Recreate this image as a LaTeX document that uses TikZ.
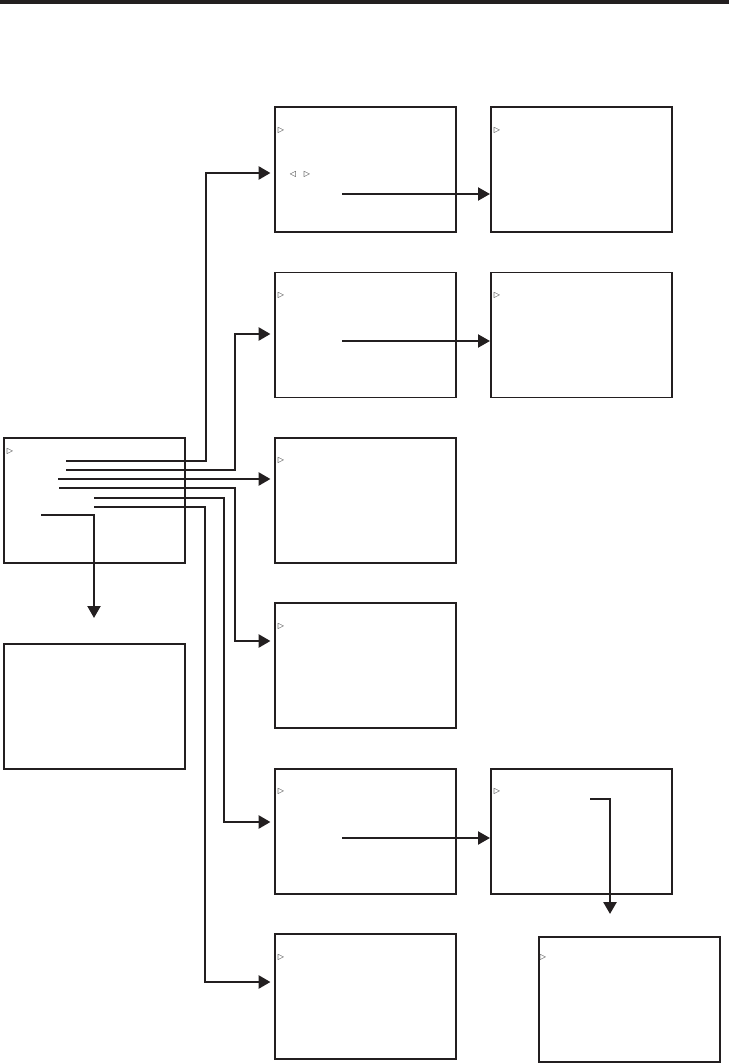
\documentclass[tikz,border=0pt]{standalone}
\usepackage{fontspec}
\newfontfamily\symfont{DejaVu Sans}
\usetikzlibrary{arrows.meta,positioning}
\definecolor{inkBlack}{RGB}{35, 31, 32}
\definecolor{cursorGray}{RGB}{40, 40, 40}

\tikzset{
  screen/.style={draw=inkBlack, line width=1.8pt, minimum width=181pt, minimum height=125pt, inner sep=0pt, outer sep=0pt},
  cursor/.style={font=\symfont\bfseries\fontsize{8pt}{8pt}\selectfont, text=cursorGray, inner sep=0pt},
  wire/.style={draw=inkBlack, line width=2.8pt, -{Triangle[length=12pt,width=13pt]}, shorten >=4.5pt},
  link/.style={draw=inkBlack, line width=2.2pt, -{Triangle[length=12pt,width=13pt]}, shorten >=1pt},
}

\begin{document}
\begin{tikzpicture}[x=1pt, y=-1pt]
  \useasboundingbox (0,0) rectangle (729,1063);
  % header rule
  \fill[inkBlack] (0,0) rectangle (729,4);

  % menu screens
  \node[screen, anchor=north west] (scrMain) at (4,438) {};
  \node[screen, below=81pt of scrMain] (scrBelow) {};
  \node[screen, anchor=north west] (c2r1) at (275,107) {};
  \node[screen, below=40.4pt of c2r1] (c2r2) {};
  \node[screen, below=40.4pt of c2r2] (c2r3) {};
  \node[screen, below=40.4pt of c2r3] (c2r4) {};
  \node[screen, below=40.4pt of c2r4] (c2r5) {};
  \node[screen, below=40.4pt of c2r5] (c2r6) {};
  \node[screen, right=35pt of c2r1] (c3r1) {};
  \node[screen, right=35pt of c2r2] (c3r2) {};
  \node[screen, right=35pt of c2r5] (c3r5) {};
  \node[screen, anchor=north west] (scrLast) at (539,937) {};

  % cursors
  \node[cursor] (curMain) at ([shift={(6pt,-13pt)}]scrMain.north west) {▷};
  \foreach \b in {c2r1,c2r2,c2r3,c2r4,c2r5,c2r6,c3r1,c3r2,c3r5}
    \node[cursor] (cur-\b) at ([shift={(6pt,-23pt)}]\b.north west) {▷};
  \node[cursor] (curLast) at ([shift={(4pt,-20pt)}]scrLast.north west) {▷};
  \node[cursor] (selLeft) at ([shift={(18pt,-67pt)}]c2r1.north west) {◁};
  \node[cursor] (selRight) at ([shift={(32pt,-67pt)}]c2r1.north west) {▷};

  % branches out of the main screen
  \coordinate (sA) at (66,461);  \coordinate (tA) at (206,173);
  \coordinate (sB) at (66,470);  \coordinate (tB) at (235,334);
  \coordinate (sC) at (58,479);
  \coordinate (sD) at (59,488);  \coordinate (tD) at (235,641);
  \coordinate (sE) at (94,498);  \coordinate (tE) at (224,822);
  \coordinate (sF) at (94,507);  \coordinate (tF) at (205,982);
  \coordinate (sG) at (41,515);  \coordinate (dG) at (94,515);

  \draw[wire] (sA) -| (tA) -- (tA -| c2r1.west);
  \draw[wire] (sB) -| (tB) -- (tB -| c2r2.west);
  \draw[wire] (sC) -- (sC -| c2r3.west);
  \draw[wire] (sD) -| (tD) -- (tD -| c2r4.west);
  \draw[wire] (sE) -| (tE) -- (tE -| c2r5.west);
  \draw[wire] (sF) -| (tF) -- (tF -| c2r6.west);
  \draw[link, shorten >=26pt] (sG) -- (dG) -- (dG |- scrBelow.north);

  % sub menus
  \coordinate (h1) at (342,194);
  \coordinate (h2) at (342,341);
  \coordinate (h5) at (342,838);
  \draw[link] (h1) -- (h1 -| c3r1.west);
  \draw[link] (h2) -- (h2 -| c3r2.west);
  \draw[link] (h5) -- (h5 -| c3r5.west);

  \coordinate (sDn) at (590,799);  \coordinate (dDn) at (610,799);
  \draw[link, line width=2.6pt, shorten >=23pt] (sDn) -- (dDn) -- (dDn |- scrLast.north);
\end{tikzpicture}
\end{document}
